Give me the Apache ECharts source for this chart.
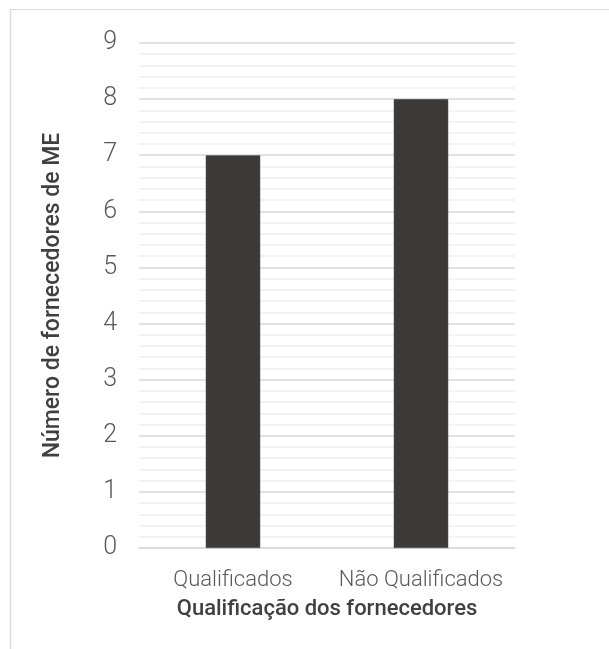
<!DOCTYPE html>
<html>
<head>
<meta charset="utf-8">
<script src="https://cdn.jsdelivr.net/npm/echarts@6/dist/echarts.min.js"></script>
<style>
  html, body { margin: 0; padding: 0; background: #ffffff; }
  #chart { width: 609px; height: 649px; }
</style>
</head>
<body>
<div id="chart"></div>
<script>
// Supplier qualification counts
const categories = ['Qualificados', 'Não Qualificados'];
const supplierCounts = [7, 8];
const yTicks = [0, 1, 2, 3, 4, 5, 6, 7, 8, 9];

const chart = echarts.init(document.getElementById('chart'), null, { renderer: 'canvas' });

chart.setOption({
  animation: false,
  backgroundColor: '#ffffff',
  graphic: [
    { type: 'line', shape: { x1: 10, y1: 9.5, x2: 609, y2: 9.5 }, style: { stroke: '#d9d9d9', lineWidth: 1 } },
    { type: 'line', shape: { x1: 10.5, y1: 9, x2: 10.5, y2: 649 }, style: { stroke: '#d9d9d9', lineWidth: 1.5 } }
  ],
  grid: { left: 139, right: 94, top: 43, bottom: 101 },
  xAxis: {
    type: 'category',
    data: categories,
    axisLine: { show: true, lineStyle: { color: '#d9d9d9', width: 1.5 } },
    axisTick: { show: false },
    axisLabel: {
      interval: 0,
      color: '#595959', fontFamily: 'Roboto', fontWeight: 300, fontSize: 22, margin: 21
    },
    name: 'Qualificação dos fornecedores',
    nameLocation: 'middle',
    nameGap: 50,
    nameTextStyle: { color: '#404040', fontFamily: 'Roboto', fontWeight: 500, fontSize: 22 }
  },
  yAxis: {
    type: 'value',
    min: yTicks[0],
    max: yTicks[yTicks.length - 1],
    interval: 1,
    axisLine: { show: false },
    axisTick: { show: false },
    axisLabel: {
      color: '#595959', fontFamily: 'Roboto', fontWeight: 300, fontSize: 25, margin: 22
    },
    splitLine: { show: true, lineStyle: { color: '#d9d9d9', width: 1.5 } },
    minorTick: { show: false, splitNumber: 5 },
    minorSplitLine: { show: true, lineStyle: { color: '#f0f0f0', width: 1.5 } },
    name: 'Número de fornecedores de ME',
    nameLocation: 'middle',
    nameRotate: 90,
    nameGap: 74,
    nameTextStyle: { color: '#404040', fontFamily: 'Roboto', fontWeight: 500, fontSize: 23 }
  },
  series: [{
    type: 'bar',
    data: supplierCounts,
    barWidth: '29%',
    itemStyle: { color: '#3b3a38', borderColor: '#5a5a58', borderWidth: 0.5 }
  }]
});
</script>
</body>
</html>
